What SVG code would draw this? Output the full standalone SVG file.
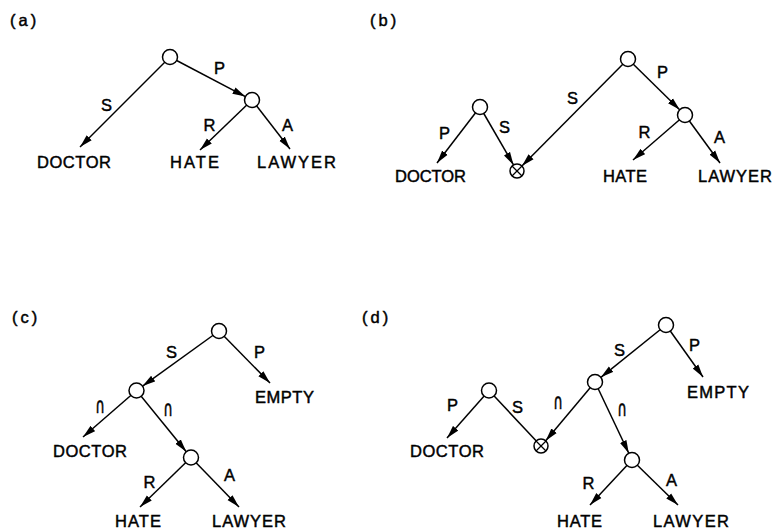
<svg xmlns="http://www.w3.org/2000/svg" width="776" height="529" viewBox="0 0 776 529">
<defs>
<marker id="ah" markerUnits="userSpaceOnUse" markerWidth="14" markerHeight="8" refX="13" refY="4" orient="auto">
<path d="M0,0.5 L13,4 L0,7.5 Z" fill="#000"/>
</marker>
</defs>
<style>
.e{stroke:#000;stroke-width:1.5;fill:none}
.a{marker-end:url(#ah)}
.n{fill:#fff;stroke:#000;stroke-width:1.5}
.x{stroke:#000;stroke-width:1.2}
text{font-family:"Liberation Sans","DejaVu Sans",sans-serif;font-size:16.5px;fill:#000;stroke:#000;stroke-width:0.45;letter-spacing:1px}
.l{text-anchor:middle}
.u{font-family:"DejaVu Sans",sans-serif;font-size:22px;letter-spacing:0;stroke-width:0.7}
</style>
<rect width="776" height="529" fill="#fff"/>
<g id="panel-labels">
<text x="10" y="26" style="letter-spacing:3px">(a)</text>
<text x="370" y="26" style="letter-spacing:3px">(b)</text>
<text x="12" y="323" style="letter-spacing:3px">(c)</text>
<text x="362" y="323" style="letter-spacing:3px">(d)</text>
</g>
<g id="connectors">
<!-- (a) -->
<line class="e a" x1="170" y1="57" x2="80" y2="147"/>
<line class="e a" x1="170" y1="57" x2="245.4" y2="96.6"/>
<line class="e a" x1="252" y1="100" x2="200" y2="150"/>
<line class="e a" x1="252" y1="100" x2="290" y2="149"/>
<!-- (b) -->
<line class="e a" x1="480" y1="107" x2="437" y2="163"/>
<line class="e a" x1="480" y1="107" x2="513.5" y2="164.9"/>
<line class="e a" x1="628" y1="59" x2="521.9" y2="166"/>
<line class="e a" x1="628" y1="59" x2="679.7" y2="109.8"/>
<line class="e a" x1="685" y1="115" x2="633" y2="160"/>
<line class="e a" x1="685" y1="115" x2="720" y2="163"/>
<!-- (c) -->
<line class="e a" x1="219" y1="331" x2="270" y2="383"/>
<line class="e a" x1="219" y1="331" x2="142.6" y2="386.1"/>
<line class="e a" x1="136.5" y1="390.5" x2="83" y2="437"/>
<line class="e a" x1="136.5" y1="390.5" x2="186.3" y2="451.7"/>
<line class="e a" x1="191" y1="457.5" x2="140" y2="507"/>
<line class="e a" x1="191" y1="457.5" x2="239" y2="507"/>
<!-- (d) -->
<line class="e a" x1="666" y1="325" x2="703" y2="377"/>
<line class="e a" x1="666" y1="325" x2="600.9" y2="377.3"/>
<line class="e a" x1="595" y1="382" x2="545.7" y2="440.7"/>
<line class="e a" x1="595" y1="382" x2="628.8" y2="453.2"/>
<line class="e a" x1="489" y1="390.5" x2="447" y2="438"/>
<line class="e" x1="489" y1="390.5" x2="541" y2="446"/>
<line class="e a" x1="632" y1="460" x2="590" y2="505"/>
<line class="e a" x1="632" y1="460" x2="678" y2="505"/>
</g>
<g id="edge-labels">
<text class="l" x="107" y="111">S</text>
<text class="l" x="220" y="74">P</text>
<text class="l" x="210" y="131">R</text>
<text class="l" x="288" y="131">A</text>
<text class="l" x="445" y="139">P</text>
<text class="l" x="505" y="133">S</text>
<text class="l" x="573" y="104">S</text>
<text class="l" x="663" y="78">P</text>
<text class="l" x="645" y="138">R</text>
<text class="l" x="720" y="143">A</text>
<text class="l" x="172" y="358">S</text>
<text class="l" x="260" y="358">P</text>
<text class="l u" transform="translate(100,413) scale(0.6,1)">∩</text>
<text class="l u" transform="translate(168,416) scale(0.6,1)">∩</text>
<text class="l" x="150" y="488">R</text>
<text class="l" x="230" y="481">A</text>
<text class="l" x="695" y="351">P</text>
<text class="l" x="620" y="356">S</text>
<text class="l u" transform="translate(558,409) scale(0.6,1)">∩</text>
<text class="l u" transform="translate(622,416) scale(0.6,1)">∩</text>
<text class="l" x="453" y="411">P</text>
<text class="l" x="518" y="413">S</text>
<text class="l" x="589" y="489">R</text>
<text class="l" x="672" y="486">A</text>
</g>
<g id="a-root"><circle class="n" cx="170" cy="57" r="7.5"/></g>
<g id="a-mid"><circle class="n" cx="252" cy="100" r="7.5"/></g>
<g id="a-doctor"><text x="37" y="168" textLength="75" lengthAdjust="spacing">DOCTOR</text></g>
<g id="a-hate"><text x="170" y="168" textLength="50" lengthAdjust="spacing">HATE</text></g>
<g id="a-lawyer"><text x="257" y="168" textLength="80" lengthAdjust="spacing">LAWYER</text></g>
<g id="b-root"><circle class="n" cx="628" cy="59" r="7.5"/></g>
<g id="b-mid"><circle class="n" cx="685" cy="115" r="7.5"/></g>
<g id="b-left"><circle class="n" cx="480" cy="107" r="7.5"/></g>
<g id="b-cross"><circle class="n" cx="517" cy="171" r="7"/><line class="x" x1="512" y1="166" x2="522" y2="176"/><line class="x" x1="522" y1="166" x2="512" y2="176"/></g>
<g id="b-doctor"><text x="395" y="182" textLength="72" lengthAdjust="spacing">DOCTOR</text></g>
<g id="b-hate"><text x="603" y="182" textLength="45" lengthAdjust="spacing">HATE</text></g>
<g id="b-lawyer"><text x="698" y="182" textLength="75" lengthAdjust="spacing">LAWYER</text></g>
<g id="c-root"><circle class="n" cx="219" cy="331" r="7.5"/></g>
<g id="c-mid"><circle class="n" cx="136.5" cy="390.5" r="7.5"/></g>
<g id="c-low"><circle class="n" cx="191" cy="457.5" r="7.5"/></g>
<g id="c-empty"><text x="255" y="403" textLength="60" lengthAdjust="spacing">EMPTY</text></g>
<g id="c-doctor"><text x="53" y="457" textLength="75" lengthAdjust="spacing">DOCTOR</text></g>
<g id="c-hate"><text x="115" y="527" textLength="47" lengthAdjust="spacing">HATE</text></g>
<g id="c-lawyer"><text x="212" y="527" textLength="75" lengthAdjust="spacing">LAWYER</text></g>
<g id="d-root"><circle class="n" cx="666" cy="325" r="7.5"/></g>
<g id="d-mid"><circle class="n" cx="595" cy="382" r="7.5"/></g>
<g id="d-low"><circle class="n" cx="632" cy="460" r="7.5"/></g>
<g id="d-left"><circle class="n" cx="489" cy="390.5" r="7.5"/></g>
<g id="d-cross"><circle class="n" cx="541" cy="446" r="7"/><line class="x" x1="536" y1="441" x2="546" y2="451"/><line class="x" x1="546" y1="441" x2="536" y2="451"/></g>
<g id="d-empty"><text x="687" y="398" textLength="63" lengthAdjust="spacing">EMPTY</text></g>
<g id="d-doctor"><text x="410" y="457" textLength="75" lengthAdjust="spacing">DOCTOR</text></g>
<g id="d-hate"><text x="557" y="527" textLength="46" lengthAdjust="spacing">HATE</text></g>
<g id="d-lawyer"><text x="653" y="527" textLength="77" lengthAdjust="spacing">LAWYER</text></g>
</svg>
